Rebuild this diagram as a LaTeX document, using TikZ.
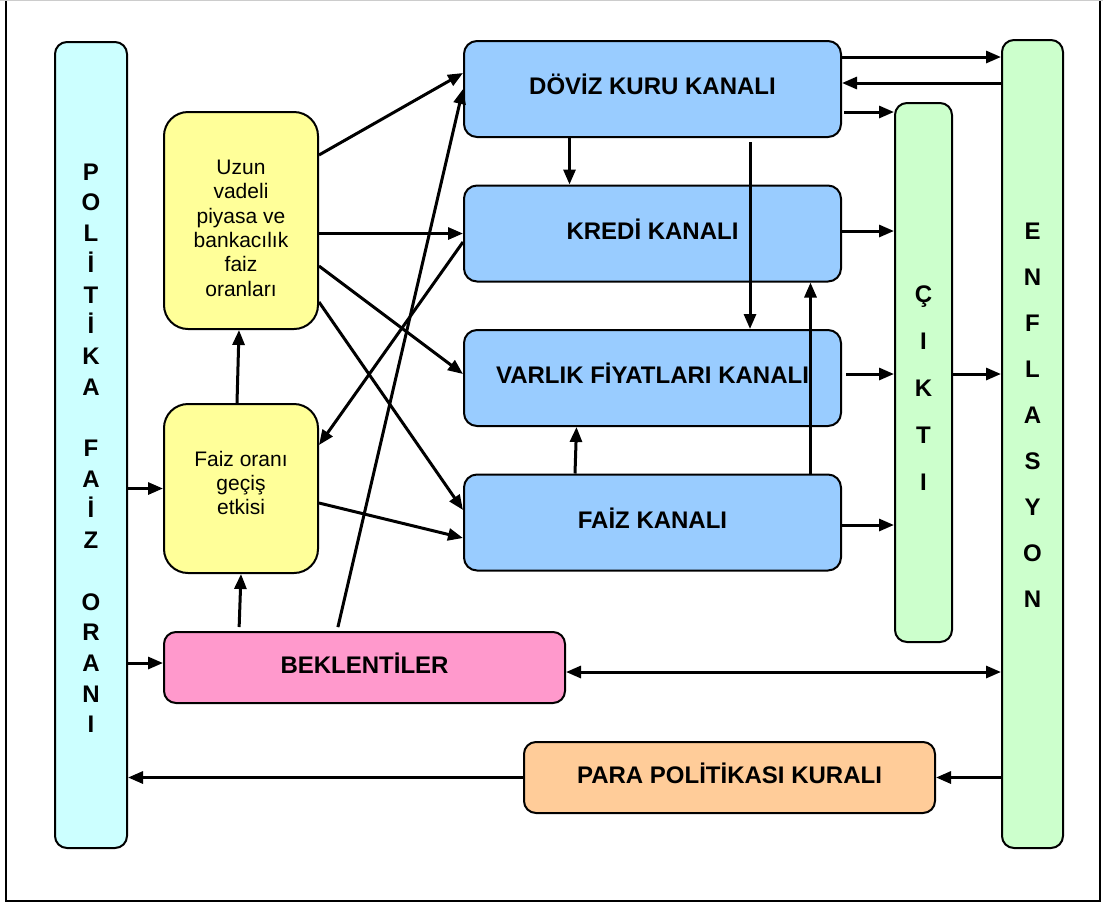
\documentclass[tikz,border=0pt]{standalone}
\usepackage{fontspec}
\setmainfont{Liberation Sans}
\usetikzlibrary{arrows.meta,positioning}

\definecolor{pfcyan}{HTML}{CCFFFF}
\definecolor{kanalblue}{HTML}{99CCFF}
\definecolor{vadeyellow}{HTML}{FFFF99}
\definecolor{sonucgreen}{HTML}{CCFFCC}
\definecolor{beklpink}{HTML}{FF99CC}
\definecolor{kuralorange}{HTML}{FFCC99}

\begin{document}
\begin{tikzpicture}[
  x=1pt,y=-1pt,
  node distance=46.5pt,
  ucu/.tip={Triangle[length=15pt,width=12pt]},
  box/.style={draw,line width=2pt,inner sep=0pt,align=center},
  kanal/.style={box,fill=kanalblue,rounded corners=13pt,minimum width=377pt,minimum height=96pt,font=\bfseries\fontsize{24}{28}\selectfont,text height=17pt,text depth=6pt},
  ara/.style={box,fill=vadeyellow,rounded corners=24pt,minimum width=154pt,font=\fontsize{21}{24.3}\selectfont},
  sutun/.style={box,rounded corners=12pt,font=\bfseries\fontsize{24}{30.7}\selectfont},
  yatay/.style={box,rounded corners=12pt,minimum height=71pt,font=\bfseries\fontsize{24}{28}\selectfont,text height=17pt,text depth=6pt},
  flow/.style={-ucu,line width=3pt},
  ikili/.style={ucu-ucu,line width=3pt}
]
\useasboundingbox (0,0) rectangle (1103,903);
\draw[line width=2pt] (6,-5) rectangle (1100,901);
\draw[black!20,line width=1pt] (0,0.5) -- (1103,0.5);

% left column and the rate boxes
\node[sutun,fill=pfcyan,minimum width=72pt,minimum height=806pt] (politika) at (91,445)
  {\rule{0pt}{23pt}P\\O\\L\\İ\\T\\İ\\K\\A\\[30.7pt]F\\A\\İ\\Z\\[30.7pt]O\\R\\A\\N\\I};
\node[ara,minimum height=217pt] (uzun) at (241,220.5)
  {\rule{0pt}{30pt}Uzun\\vadeli\\piyasa ve\\bankacılık\\faiz\\oranları};
\node[ara,minimum height=169pt] (gecis) at (241,488.5)
  {Faiz oranı\\geçiş\\etkisi\rule[-11pt]{0pt}{11pt}};
\node[yatay,fill=beklpink,minimum width=401pt] (bekl) at (364.5,667.5) {BEKLENTİLER};
\node[yatay,fill=kuralorange,minimum width=411pt] (kural) at (729.5,777.5) {PARA POLİTİKASI KURALI};

% channels
\node[kanal] (dk) at (652.5,89) {DÖVİZ KURU KANALI};
\node[kanal,below=of dk] (kredi) {KREDİ KANALI};
\node[kanal,below=of kredi] (varlik) {VARLIK FİYATLARI KANALI};
\node[kanal,below=of varlik] (faiz) {FAİZ KANALI};

% outcomes
\node[sutun,fill=sonucgreen,minimum width=57pt,minimum height=539pt,font=\bfseries\fontsize{24}{47}\selectfont] (cikti) at (923.5,372.5)
  {\rule{0pt}{48pt}Ç\\I\\K\\T\\I};
\node[sutun,fill=sonucgreen,minimum width=61pt,minimum height=808pt,font=\bfseries\fontsize{24}{46}\selectfont] (enf) at (1032.5,444)
  {E\\N\\F\\L\\A\\S\\Y\\O\\N\rule[-58pt]{0pt}{58pt}};

% left side arrows
\draw[flow] (politika.east |- gecis.west) -- (gecis.west);
\draw[flow] (politika.east |- 0,663) -- (bekl.west |- 0,663);
\draw[flow] (kural.west) -- (politika.east |- kural.west);
\draw[flow] (enf.west |- kural.east) -- (kural.east);
\draw[ikili] (bekl.east |- 0,672) -- (enf.west |- 0,672);
\draw[flow] ([xshift=-4pt]gecis.north) -- ([xshift=-2pt]uzun.south);
\draw[flow,shorten <=4pt] ([xshift=-2pt]gecis.south |- bekl.north) -- (gecis.south);
\draw[flow,shorten <=4pt] ([xshift=-27.5pt]bekl.north) -- (dk.west);
\draw[flow] (uzun.east |- 0,155) -- (dk.west |- 0,73);
\draw[flow] (uzun.east |- kredi.west) -- (kredi.west);
\draw[flow] (uzun.east |- 0,266) -- (varlik.west |- 0,374);
\draw[flow] (uzun.east |- 0,302) -- (faiz.west |- 0,510);
\draw[flow] (gecis.east |- 0,503) -- (faiz.west |- 0,538);
\draw[flow] (kredi.west |- 0,242) -- (gecis.east |- 0,445);

% between channels and to the outcomes
\draw[flow] ([xshift=-83pt]dk.south) -- ([xshift=-83pt]kredi.north);
\draw[flow,shorten <=4pt] ([xshift=97.5pt]dk.south) -- ([xshift=97.5pt]varlik.north);
\draw[flow] ([xshift=-77.5pt]faiz.north) -- ([xshift=-76pt]varlik.south);
\draw[flow] ([xshift=158pt]faiz.north) -- ([xshift=158pt]kredi.south);
\draw[flow] (dk.east |- 0,57) -- (enf.west |- 0,57);
\draw[flow] (enf.west |- 0,83) -- (dk.east |- 0,83);
\draw[flow,shorten <=2pt] (dk.east |- 0,112) -- (cikti.west |- 0,112);
\draw[flow] (kredi.east |- 0,231) -- (cikti.west |- 0,231);
\draw[flow,shorten <=4pt] (varlik.east |- 0,374) -- (cikti.west |- 0,374);
\draw[flow] (faiz.east |- 0,525) -- (cikti.west |- 0,525);
\draw[flow] (cikti.east |- 0,374) -- (enf.west |- 0,374);
\end{tikzpicture}
\end{document}
